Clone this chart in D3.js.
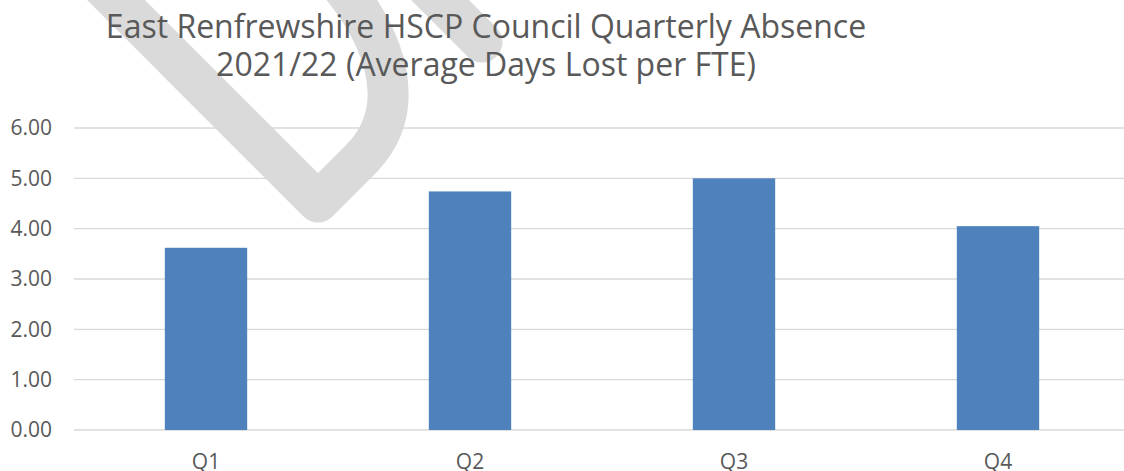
<!DOCTYPE html>
<html>
<head>
<meta charset="utf-8">
<script src="https://cdn.jsdelivr.net/npm/d3@7"></script>
<style>
  html, body { margin: 0; padding: 0; background: #fff; }
  svg { display: block; font-family: "Open Sans", sans-serif; }
</style>
</head>
<body>
<svg width="1124" height="471"></svg>
<script>
var quarters = ["Q1", "Q2", "Q3", "Q4"];
var daysLost = [3.62, 4.74, 5.00, 4.05];
var yTicks = [0, 1, 2, 3, 4, 5, 6];
var titleLines = ["East Renfrewshire HSCP Council Quarterly Absence", "2021/22 (Average Days Lost per FTE)"];

var svg = d3.select("svg"),
	width = +svg.attr("width"),
	height = +svg.attr("height");

var x = d3.scaleBand()
	.domain(quarters)
	.range([74, 1130])
	.paddingInner(0.688)
	.paddingOuter(0.344);

var y = d3.scaleLinear()
	.domain([0, 6])
	.range([430, 128]);

// "DRAFT" watermark pieces that fall inside the picture
var mark = svg.append("g")
	.attr("fill", "none")
	.attr("stroke", "#dadada")
	.attr("stroke-width", 41)
	.attr("stroke-linejoin", "round")
	.attr("stroke-linecap", "round");
mark.append("path") // the D
	.attr("d", "M60,-56 L318,202 L362,158 Q390,128 388,90 Q386,40 340,-16");
mark.append("path") // stem of the R
	.attr("d", "M400,-40 L482,42");

// gridlines
svg.append("g")
	.selectAll("line")
	.data(yTicks)
	.enter().append("line")
	.attr("x1", 74)
	.attr("x2", width)
	.attr("y1", function(d) { return y(d); })
	.attr("y2", function(d) { return y(d); })
	.attr("stroke", "#d9d9d9")
	.attr("stroke-width", 1.4);

// bars
svg.append("g")
	.selectAll("rect")
	.data(daysLost)
	.enter().append("rect")
	.attr("x", function(d, i) { return x(quarters[i]); })
	.attr("width", x.bandwidth())
	.attr("y", function(d) { return y(d); })
	.attr("height", function(d) { return y(0) - y(d); })
	.attr("fill", "#4f81bd");

// y axis, no domain line or ticks
var yAxis = svg.append("g")
	.attr("transform", "translate(52,0)")
	.call(d3.axisLeft(y).tickValues(yTicks).tickSize(0).tickPadding(0).tickFormat(d3.format(".2f")));
yAxis.select(".domain").remove();
yAxis.selectAll("text")
	.attr("fill", "#595959")
	.style("font-size", "21px")
	.style("font-family", "'Open Sans', sans-serif");

// x axis labels (cut by the bottom edge, as in the original)
var xAxis = svg.append("g")
	.attr("transform", "translate(0,430)")
	.call(d3.axisBottom(x).tickSize(0).tickPadding(24));
xAxis.select(".domain").remove();
xAxis.selectAll("text")
	.attr("fill", "#595959")
	.style("font-size", "21px")
	.style("font-family", "'Open Sans', sans-serif");

// title
svg.append("g")
	.selectAll("text")
	.data(titleLines)
	.enter().append("text")
	.attr("x", 486)
	.attr("y", function(d, i) { return 38 + i * 38; })
	.attr("text-anchor", "middle")
	.attr("fill", "#595959")
	.style("font-size", "32px")
	.text(function(d) { return d; });
</script>
</body>
</html>
